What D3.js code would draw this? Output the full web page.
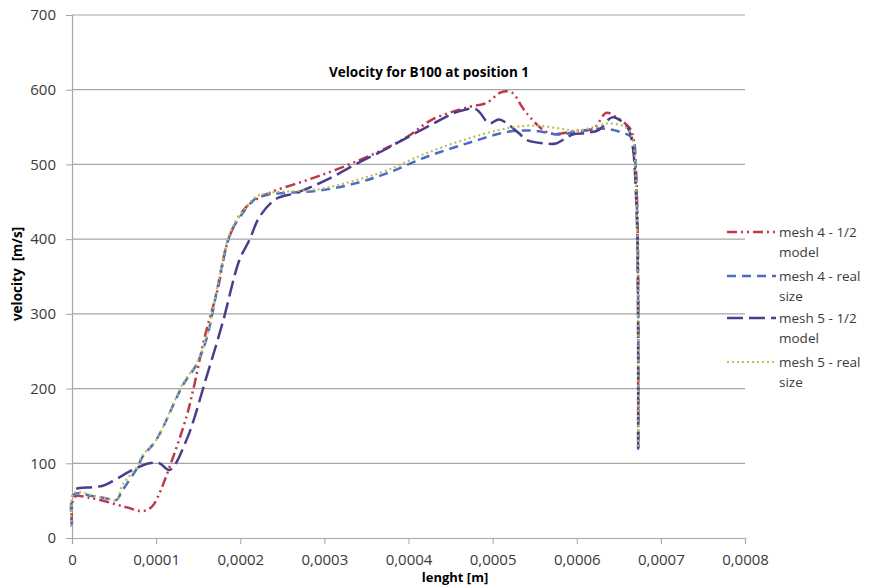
<!DOCTYPE html>
<html>
<head>
<meta charset="utf-8">
<script src="https://cdn.jsdelivr.net/npm/d3@7"></script>
<style>
  html, body { margin: 0; padding: 0; background: #fff; }
  svg { display: block; font-family: "Open Sans", sans-serif; }
</style>
</head>
<body>
<svg id="chart" width="872" height="587"></svg>
<script>
// ---- Data (x in m, velocity in m/s) ----
const mesh4HalfX = [0, 0.000003, 0.00002, 0.000043, 0.000065, 0.000084, 0.000095, 0.000102, 0.000116, 0.000136, 0.000144, 0.000158, 0.000173, 0.000187, 0.000207, 0.000235, 0.000274, 0.000314, 0.000374, 0.0004, 0.000428, 0.000472, 0.000492, 0.000511, 0.000523, 0.000535, 0.00054, 0.000567, 0.0006, 0.00062, 0.000635, 0.000646, 0.000662, 0.000666, 0.00067, 0.000672, 0.000673, 0.000673, 0.000673];
const mesh4HalfV = [20, 55, 54, 48, 41, 36, 42, 55, 95, 162, 198, 270, 332, 403, 443, 462, 477, 493, 522, 538, 560, 577, 582, 597, 596, 577, 569, 542, 545, 548, 569, 564, 550, 542, 500, 440, 350, 220, 118];

const mesh4RealX = [0, 0.000002, 0.000025, 0.000041, 0.000053, 0.000059, 0.000077, 0.000084, 0.0001, 0.000132, 0.000148, 0.00016, 0.000172, 0.000184, 0.000191, 0.000207, 0.000219, 0.000235, 0.000294, 0.000338, 0.000374, 0.000421, 0.000472, 0.00052, 0.000551, 0.000579, 0.0006, 0.00063, 0.00065, 0.000666, 0.00067, 0.000672, 0.000673, 0.000673];
const mesh4RealV = [15, 58, 56, 53, 51, 62, 93, 109, 131, 205, 232, 267, 330, 393, 414, 441, 455, 460, 465, 475, 488, 510, 529, 544, 545, 540, 544, 548, 544, 535, 490, 420, 300, 118];

const mesh5HalfX = [0.000005, 0.0000095, 0.0000368, 0.000053, 0.000072, 0.000092, 0.000104, 0.000116, 0.000136, 0.00016, 0.000179, 0.000199, 0.000211, 0.000223, 0.000243, 0.000267, 0.000302, 0.000342, 0.000374, 0.0004, 0.00043, 0.00046, 0.00048, 0.000496, 0.000508, 0.000531, 0.00054, 0.000563, 0.000575, 0.000595, 0.00061, 0.000626, 0.000642, 0.000654, 0.000662, 0.000667, 0.00067, 0.000672, 0.000673, 0.000673];
const mesh5HalfV = [66, 67, 70, 79, 91, 100, 100, 91, 131, 216, 288, 372, 399, 430, 454, 462, 479, 503, 521, 537, 555, 571, 574, 555, 560, 542, 533, 528, 528, 540, 542, 546, 563, 557, 546, 520, 470, 400, 260, 118];

const mesh5RealX = [0, 0.000002, 0.000025, 0.000041, 0.000053, 0.00006, 0.000077, 0.000084, 0.0001, 0.000132, 0.000148, 0.00016, 0.000172, 0.000184, 0.000191, 0.000207, 0.000219, 0.000235, 0.000294, 0.000338, 0.000374, 0.000421, 0.000472, 0.00052, 0.00055, 0.00058, 0.0006, 0.00062, 0.00064, 0.00066, 0.000667, 0.00067, 0.000672, 0.000673, 0.000673];
const mesh5RealV = [15, 60, 57, 53, 51, 71, 95, 111, 131, 207, 234, 269, 332, 395, 416, 443, 457, 462, 467, 479, 492, 515, 535, 549, 552, 548, 545, 550, 555, 548, 530, 480, 400, 280, 118];

const seriesNames = [["mesh 4 - 1/2", "model"], ["mesh 4 - real", "size"], ["mesh 5 - 1/2", "model"], ["mesh 5 - real", "size"]];
const xTicks = [0, 0.0001, 0.0002, 0.0003, 0.0004, 0.0005, 0.0006, 0.0007, 0.0008];
const xTickLabels = ["0", "0,0001", "0,0002", "0,0003", "0,0004", "0,0005", "0,0006", "0,0007", "0,0008"];
const yTicks = [0, 100, 200, 300, 400, 500, 600, 700];

const series = [
  { name: seriesNames[0], xs: mesh4HalfX, vs: mesh4HalfV, color: "#c0364a", dash: "10,4,2,4,2,4", w: 2.5 },
  { name: seriesNames[1], xs: mesh4RealX, vs: mesh4RealV, color: "#4a6cc8", dash: "9,6", w: 2.5 },
  { name: seriesNames[2], xs: mesh5HalfX, vs: mesh5HalfV, color: "#4a3d8c", dash: "16,6", w: 2.5 },
  { name: seriesNames[3], xs: mesh5RealX, vs: mesh5RealV, color: "#bcc050", dash: "2,3", w: 2.2 }
];

// ---- Layout ----
const svg = d3.select("#chart");
const plotL = 72, plotR = 745, plotT = 15, plotB = 538;
const x = d3.scaleLinear().domain([0, 0.0008]).range([plotL, plotR]);
const y = d3.scaleLinear().domain([0, 700]).range([plotB, plotT]);

// Gridlines
svg.append("g").selectAll("line").data(yTicks.filter(d => d > 0)).join("line")
  .attr("x1", plotL).attr("x2", plotR)
  .attr("y1", d => y(d)).attr("y2", d => y(d))
  .attr("stroke", "#a6a6a6").attr("stroke-width", 1.2);

// Y axis
const yAxis = svg.append("g").attr("transform", `translate(${plotL},0)`)
  .call(d3.axisLeft(y).tickValues(yTicks).tickSize(6).tickPadding(10).tickFormat(d3.format("d")));
yAxis.select(".domain").attr("stroke", "#a6a6a6").attr("stroke-width", 1.2);
yAxis.selectAll(".tick line").attr("stroke", "#a6a6a6");
yAxis.selectAll("text").attr("font-size", 15).attr("fill", "#3a3a3a").attr("font-family", "Open Sans");

// X axis
const xAxis = svg.append("g").attr("transform", `translate(0,${plotB})`)
  .call(d3.axisBottom(x).tickValues(xTicks).tickSize(6).tickPadding(10).tickFormat((d, i) => xTickLabels[i]));
xAxis.select(".domain").attr("stroke", "#a6a6a6").attr("stroke-width", 1.2);
xAxis.selectAll(".tick line").attr("stroke", "#a6a6a6");
xAxis.selectAll("text").attr("font-size", 15).attr("fill", "#3a3a3a").attr("font-family", "Open Sans");

// Lines
const lineGen = d3.line().x(d => x(d[0])).y(d => y(d[1])).curve(d3.curveCatmullRom.alpha(0.5));
const lineG = svg.append("g");
series.forEach(s => {
  const pts = s.xs.map((xv, i) => [xv, s.vs[i]]);
  lineG.append("path").datum(pts)
    .attr("d", lineGen)
    .attr("fill", "none").attr("stroke", s.color).attr("stroke-width", s.w)
    .attr("stroke-dasharray", s.dash).attr("stroke-linecap", "butt");
});

// Title
svg.append("text").attr("x", 429).attr("y", 77).attr("text-anchor", "middle")
  .attr("font-size", 13.5).attr("font-weight", "bold").attr("fill", "#000")
  .text("Velocity for B100 at position 1");

// Axis titles
svg.append("text").attr("transform", "translate(22,274) rotate(-90)").attr("text-anchor", "middle")
  .attr("font-size", 13.5).attr("font-weight", "bold").attr("fill", "#000")
  .attr("xml:space", "preserve").text("velocity  [m/s]");
svg.append("text").attr("x", 455).attr("y", 582).attr("text-anchor", "middle")
  .attr("font-size", 13).attr("font-weight", "bold").attr("fill", "#000")
  .text("lenght [m]");

// Legend
const legY = [232, 276, 318, 362];
const leg = svg.append("g");
series.forEach((s, i) => {
  leg.append("line").attr("x1", 727).attr("x2", 776).attr("y1", legY[i]).attr("y2", legY[i])
    .attr("stroke", s.color).attr("stroke-width", s.w).attr("stroke-dasharray", s.dash);
  const t = leg.append("text").attr("x", 779).attr("y", legY[i] + 5)
    .attr("font-size", 13.5).attr("fill", "#3a3a3a");
  t.append("tspan").attr("x", 779).text(s.name[0]);
  t.append("tspan").attr("x", 779).attr("dy", 19.5).text(s.name[1]);
});
</script>
</body>
</html>
